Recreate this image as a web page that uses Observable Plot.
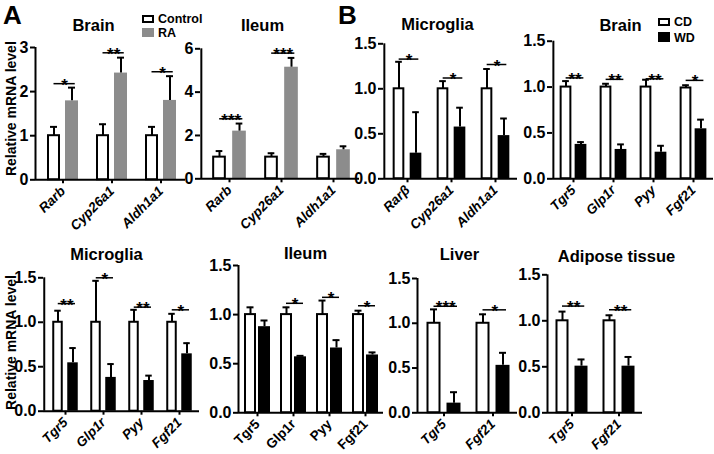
<!DOCTYPE html>
<html><head><meta charset="utf-8">
<script src="https://cdn.jsdelivr.net/npm/d3@7"></script>
<script src="https://cdn.jsdelivr.net/npm/@observablehq/plot@0.6"></script>
<style>
html,body{margin:0;padding:0;background:#fff;}
#fig{position:relative;width:714px;height:454px;overflow:hidden;font-family:"Liberation Sans",Arial,sans-serif;}
#fig svg{position:absolute;overflow:visible;}
</style></head><body><div id="fig"></div>
<script>
// ---------- DATA ----------
// Panel A: retinoic-acid target genes, Control vs RA
const raGenes = ["Rarb", "Cyp26a1", "Aldh1a1"];
const brainRaControl = [1.00, 1.00, 1.00];
const brainRaControlSem = [0.20, 0.26, 0.20];
const brainRaTreated = [1.79, 2.42, 1.80];
const brainRaTreatedSem = [0.30, 0.35, 0.55];
const brainRaSig = ["*", "**", "*"];
const brainRaSigLevel = [2.18, 2.88, 2.45];

const ileumRaControl = [1.00, 1.00, 1.00];
const ileumRaControlSem = [0.28, 0.18, 0.15];
const ileumRaTreated = [2.20, 5.15, 1.34];
const ileumRaTreatedSem = [0.35, 0.43, 0.16];
const ileumRaSig = ["***", "***", ""];
const ileumRaSigLevel = [2.77, 5.80, null];

// Panel B: CD vs WD
const microgliaRaGenes = ["Rarβ", "Cyp26a1", "Aldh1a1"];
const microgliaRaCD = [1.00, 1.00, 1.00];
const microgliaRaCDSem = [0.30, 0.085, 0.22];
const microgliaRaWD = [0.285, 0.575, 0.48];
const microgliaRaWDSem = [0.455, 0.215, 0.19];
const microgliaRaSig = ["*", "*", "*"];
const microgliaRaSigLevel = [1.33, 1.12, 1.27];

const hormoneGenes = ["Tgr5", "Glp1r", "Pyy", "Fgf21"];
const brainCD = [1.00, 1.00, 1.00, 0.99];
const brainCDSem = [0.065, 0.036, 0.08, 0.03];
const brainWD = [0.375, 0.32, 0.29, 0.545];
const brainWDSem = [0.025, 0.055, 0.07, 0.10];
const brainSig = ["**", "**", "**", "*"];
const brainSigLevel = [1.10, 1.084, 1.09, 1.073];

const microgliaCD = [1.00, 1.00, 1.00, 1.00];
const microgliaCDSem = [0.13, 0.466, 0.14, 0.095];
const microgliaWD = [0.544, 0.38, 0.345, 0.645];
const microgliaWDSem = [0.166, 0.15, 0.055, 0.12];
const microgliaSig = ["**", "*", "**", "*"];
const microgliaSigLevel = [1.21, 1.50, 1.17, 1.14];

const ileumCD = [1.00, 1.00, 1.00, 1.00];
const ileumCDSem = [0.074, 0.074, 0.143, 0.04];
const ileumWD = [0.877, 0.57, 0.66, 0.589];
const ileumWDSem = [0.063, 0.01, 0.08, 0.026];
const ileumSig = ["", "*", "*", "*"];
const ileumSigLevel = [null, 1.115, 1.176, 1.09];

const twoGenes = ["Tgr5", "Fgf21"];
const liverCD = [1.00, 1.00];
const liverCDSem = [0.155, 0.10];
const liverWD = [0.108, 0.53];
const liverWDSem = [0.122, 0.14];
const liverSig = ["***", "*"];
const liverSigLevel = [1.19, 1.15];

const adiposeCD = [1.00, 1.00];
const adiposeCDSem = [0.10, 0.06];
const adiposeWD = [0.507, 0.507];
const adiposeWDSem = [0.073, 0.10];
const adiposeSig = ["**", "**"];
const adiposeSigLevel = [1.16, 1.12];

const ticks3 = [0, 1, 2, 3];
const ticks6 = [0, 2, 4, 6];
const ticks15 = [0, 0.5, 1.0, 1.5];

const yAxisLabel = "Relative mRNA level";

// ---------- DRAWING ----------
const fig = document.getElementById("fig");
const FONT = "Liberation Sans, Arial, sans-serif";

function panel(cfg) {
  const {box: [L, T, W, H], frame: [x0, x1, yTop, yBot], xInset = [0, 0],
    genes, ctrl, ctrlSem, trt, trtSem, sig, sigLevel, yMax, yTicks, yFmt,
    trtFill, barW, gap, title, titleAt: [tx, ty], italic = true, yLabel = false} = cfg;
  const n = genes.length;
  const bw = (x1 - x0 - xInset[0] - xInset[1]) / n;
  const half = bw / 2;
  const rows = genes.map((g, i) => ({gene: g, c: ctrl[i], cTop: ctrl[i] + ctrlSem[i],
    t: trt[i], tTop: trt[i] + trtSem[i], sig: sig[i], sigY: sigLevel[i]}));
  const sigRows = rows.filter(d => d.sig);
  const cC = -(gap / 2 + barW / 2), cT = gap / 2 + barW / 2;
  const capW = 7;
  const marks = [
    Plot.barY(rows, {x: "gene", y: "c", fill: "white", stroke: "black", strokeWidth: 2,
      insetLeft: half - gap / 2 - barW + 1, insetRight: half + gap / 2 + 1}),
    Plot.barY(rows, {x: "gene", y: "t", fill: trtFill,
      insetLeft: half + gap / 2, insetRight: half - gap / 2 - barW}),
    Plot.ruleX(rows, {x: "gene", y1: "c", y2: "cTop", dx: cC, stroke: "black", strokeWidth: 2}),
    Plot.tickY(rows, {x: "gene", y: "cTop", dx: cC, insetLeft: half - capW / 2, insetRight: half - capW / 2, stroke: "black", strokeWidth: 2}),
    Plot.ruleX(rows, {x: "gene", y1: "t", y2: "tTop", dx: cT, stroke: "black", strokeWidth: 2}),
    Plot.tickY(rows, {x: "gene", y: "tTop", dx: cT, insetLeft: half - capW / 2, insetRight: half - capW / 2, stroke: "black", strokeWidth: 2}),
    Plot.ruleY(sigRows, {x1: "gene", x2: "gene", y: "sigY", insetLeft: half + cC, insetRight: half - cT - barW / 4, stroke: "black", strokeWidth: 1.5}),
    Plot.text(sigRows, {x: "gene", y: "sigY", text: "sig", dx: (cC + cT + barW / 4) / 2, dy: 7, lineAnchor: "bottom", fontSize: 17, fontWeight: "bold"}),
    Plot.ruleY([0], {stroke: "black", strokeWidth: 2}),
    Plot.ruleX([genes[0]], {x: d => d, y1: 0, y2: yMax, dx: -half - xInset[0], stroke: "black", strokeWidth: 2}),
    Plot.axisY({ticks: yTicks, tickFormat: yFmt, tickSize: 5, tickPadding: 2, strokeWidth: 2, fontSize: 16, fontWeight: "bold", label: null}),
    Plot.axisX({tickSize: 4, tickRotate: -45, tickPadding: 5, strokeWidth: 2, fontSize: 13.5, fontWeight: "bold", fontStyle: italic ? "italic" : "normal", label: null}),
    Plot.text([title], {frameAnchor: "top-left", dx: tx - x0, dy: ty - yTop, lineAnchor: "bottom", textAnchor: "middle", fontSize: 16.5, fontWeight: "bold"})
  ];
  if (yLabel) {
    marks.push(Plot.text([yAxisLabel], {frameAnchor: "left", dx: 11 - x0 + L, dy: yLabel, rotate: -90, textAnchor: "middle", lineAnchor: "middle", fontSize: 14, fontWeight: "bold"}));
  }
  const svg = Plot.plot({
    width: W, height: H,
    marginLeft: x0 - L, marginRight: L + W - x1, marginTop: yTop - T, marginBottom: T + H - yBot,
    x: {domain: genes, padding: 0, insetLeft: xInset[0], insetRight: xInset[1]},
    y: {domain: [0, yMax]},
    style: {background: "none", overflow: "visible", fontFamily: FONT, fontWeight: "bold", fontSize: "14px", color: "black"},
    marks
  });
  svg.style.position = "absolute";
  svg.style.left = L + "px";
  svg.style.top = T + "px";
  svg.style.maxWidth = "none";
  fig.appendChild(svg);
}

const fmtInt = d3.format("d");
const fmt1 = d3.format(".1f");

panel({box: [0, 0, 192, 232], frame: [35, 185, 47, 179.3], xInset: [3, 0],
  genes: raGenes, ctrl: brainRaControl, ctrlSem: brainRaControlSem, trt: brainRaTreated, trtSem: brainRaTreatedSem,
  sig: brainRaSig, sigLevel: brainRaSigLevel, yMax: 3, yTicks: ticks3, yFmt: fmtInt,
  trtFill: "#8c8c8c", barW: 13, gap: 5, title: "Brain", titleAt: [93, 30], yLabel: -5});

panel({box: [170, 0, 195, 232], frame: [200, 359, 48.3, 178.3], xInset: [2, 0],
  genes: raGenes, ctrl: ileumRaControl, ctrlSem: ileumRaControlSem, trt: ileumRaTreated, trtSem: ileumRaTreatedSem,
  sig: ileumRaSig, sigLevel: ileumRaSigLevel, yMax: 6, yTicks: ticks6, yFmt: fmtInt,
  trtFill: "#8c8c8c", barW: 14, gap: 6, title: "Ileum", titleAt: [262, 30]});

panel({box: [340, 0, 180, 232], frame: [383, 517, 43.3, 178.3], xInset: [1, 0],
  genes: microgliaRaGenes, ctrl: microgliaRaCD, ctrlSem: microgliaRaCDSem, trt: microgliaRaWD, trtSem: microgliaRaWDSem,
  sig: microgliaRaSig, sigLevel: microgliaRaSigLevel, yMax: 1.5, yTicks: ticks15, yFmt: fmt1,
  trtFill: "black", barW: 12, gap: 5, title: "Microglia", titleAt: [437, 29]});

panel({box: [520, 0, 194, 232], frame: [552, 713, 40.7, 178.3], xInset: [0, 0],
  genes: hormoneGenes, ctrl: brainCD, ctrlSem: brainCDSem, trt: brainWD, trtSem: brainWDSem,
  sig: brainSig, sigLevel: brainSigLevel, yMax: 1.5, yTicks: ticks15, yFmt: fmt1,
  trtFill: "black", barW: 12, gap: 3, title: "Brain", titleAt: [620, 30]});

panel({box: [0, 232, 205, 222], frame: [43, 199, 277.3, 410.7], xInset: [2, 0],
  genes: hormoneGenes, ctrl: microgliaCD, ctrlSem: microgliaCDSem, trt: microgliaWD, trtSem: microgliaWDSem,
  sig: microgliaSig, sigLevel: microgliaSigLevel, yMax: 1.5, yTicks: ticks15, yFmt: fmt1,
  trtFill: "black", barW: 11, gap: 4, title: "Microglia", titleAt: [106, 259], yLabel: -2});

panel({box: [205, 232, 182, 222], frame: [238, 383, 265, 412.3], xInset: [1, 0],
  genes: hormoneGenes, ctrl: ileumCD, ctrlSem: ileumCDSem, trt: ileumWD, trtSem: ileumWDSem,
  sig: ileumSig, sigLevel: ileumSigLevel, yMax: 1.5, yTicks: ticks15, yFmt: fmt1,
  trtFill: "black", barW: 12, gap: 2, title: "Ileum", titleAt: [305, 258], italic: false});

panel({box: [387, 232, 133, 222], frame: [417, 517, 278, 412.3], xInset: [2, 0],
  genes: twoGenes, ctrl: liverCD, ctrlSem: liverCDSem, trt: liverWD, trtSem: liverWDSem,
  sig: liverSig, sigLevel: liverSigLevel, yMax: 1.5, yTicks: ticks15, yFmt: fmt1,
  trtFill: "black", barW: 14, gap: 6, title: "Liver", titleAt: [459, 259]});

panel({box: [520, 232, 194, 222], frame: [547, 642, 274.3, 412.3], xInset: [1, 0],
  genes: twoGenes, ctrl: adiposeCD, ctrlSem: adiposeCDSem, trt: adiposeWD, trtSem: adiposeWDSem,
  sig: adiposeSig, sigLevel: adiposeSigLevel, yMax: 1.5, yTicks: ticks15, yFmt: fmt1,
  trtFill: "black", barW: 13, gap: 6, title: "Adipose tissue", titleAt: [616, 261]});

// ---------- panel letters and legends ----------
const over = d3.select(fig).append("svg")
  .attr("width", 714).attr("height", 454)
  .style("left", "0px").style("top", "0px").style("pointer-events", "none")
  .style("font-family", FONT).style("font-weight", "bold");
over.append("text").attr("x", 3).attr("y", 24).attr("font-size", 26).text("A");
over.append("text").attr("x", 338).attr("y", 24).attr("font-size", 26).text("B");

const legends = [
  {x: 142, items: [{label: "Control", fill: "white", y: 15, h: 8, base: 23}, {label: "RA", fill: "#8c8c8c", y: 28, h: 9, base: 37}]},
  {x: 658, items: [{label: "CD", fill: "white", y: 18, h: 8, base: 25.5}, {label: "WD", fill: "black", y: 32, h: 10, base: 42}]}
];
for (const lg of legends) {
  for (const it of lg.items) {
    if (it.fill === "white") {
      over.append("rect").attr("x", lg.x + 1).attr("y", it.y + 1).attr("width", 10).attr("height", it.h - 2)
        .attr("fill", "white").attr("stroke", "black").attr("stroke-width", 2);
    } else {
      over.append("rect").attr("x", lg.x).attr("y", it.y).attr("width", 12).attr("height", it.h).attr("fill", it.fill);
    }
    over.append("text").attr("x", lg.x + 16).attr("y", it.base).attr("font-size", 12.5).text(it.label);
  }
}
</script>
</body></html>
